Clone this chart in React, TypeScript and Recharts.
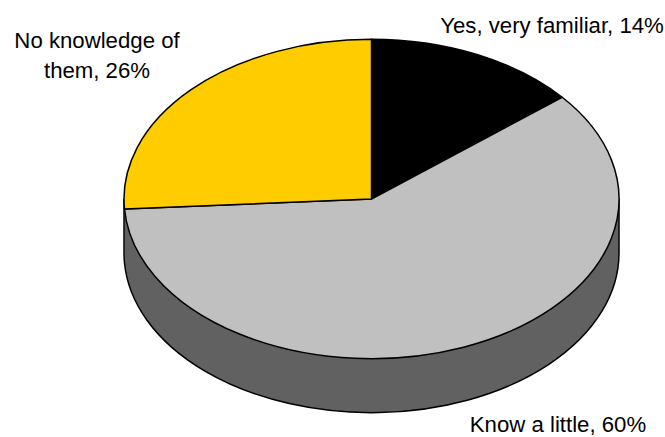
import React from 'react'
import { PieChart, Pie, Cell } from 'recharts'

const categories = ['Yes, very familiar', 'Know a little', 'No knowledge of them']
const shares = [14, 60, 26]
const sliceColors = ['#000000', '#c0c0c0', '#ffcc00']

const chartData = categories.map((name, i) => ({ name, value: shares[i] }))

const WIDTH = 665
const HEIGHT = 437
const CX = 371.5
const CY = 199
const RADIUS = 247.5
const TILT = 0.645 // vertical squash of the disc
const DEPTH = 54
const WALL_COLOR = '#616161'
const RAD = Math.PI / 180

const px = (cx: number, r: number, a: number) => cx + r * Math.cos(a * RAD)
const py = (cy: number, r: number, a: number) => cy - r * TILT * Math.sin(a * RAD)

// top face of a slice, projected onto an ellipse
function TopSlice(props: any) {
  const { cx, cy, outerRadius: r, startAngle, endAngle, fill } = props
  const ry = r * TILT
  const large = Math.abs(endAngle - startAngle) > 180 ? 1 : 0
  const d = `M${cx},${cy} L${px(cx, r, startAngle)},${py(cy, r, startAngle)} A${r},${ry} 0 ${large} 1 ${px(cx, r, endAngle)},${py(cy, r, endAngle)} Z`
  return <path d={d} fill={fill} stroke="#000" strokeWidth={1.5} strokeLinejoin="round" />
}

// side wall: only the part of a slice's rim that faces the viewer
function WallSlice(props: any) {
  const { cx, cy, outerRadius: r, startAngle, endAngle } = props
  const ry = r * TILT
  const from = Math.min(startAngle, 0)
  const to = Math.max(endAngle, -180)
  if (from <= to) return <g />
  const x1 = px(cx, r, from)
  const y1 = py(cy, r, from)
  const x2 = px(cx, r, to)
  const y2 = py(cy, r, to)
  const large = from - to > 180 ? 1 : 0
  const body = `M${x1},${y1} A${r},${ry} 0 ${large} 1 ${x2},${y2} L${x2},${y2 + DEPTH} A${r},${ry} 0 ${large} 0 ${x1},${y1 + DEPTH} Z`
  let edge = `M${x1},${y1 + DEPTH} A${r},${ry} 0 ${large} 1 ${x2},${y2 + DEPTH}`
  if (from === 0) edge = `M${x1},${y1} L${x1},${y1 + DEPTH} A${r},${ry} 0 ${large} 1 ${x2},${y2 + DEPTH}`
  if (to === -180) edge += ` L${x2},${y2}`
  return (
    <g>
      <path d={body} fill={WALL_COLOR} stroke="none" />
      <path d={edge} fill="none" stroke="#000" strokeWidth={1.5} />
    </g>
  )
}

const labelSpots = [
  { x: 552, y: 33, lines: ['Yes, very familiar, 14%'] },
  { x: 558, y: 432, lines: ['Know a little, 60%'] },
  { x: 97, y: 48, lines: ['No knowledge of', 'them, 26%'] },
]

function SliceLabel(props: any) {
  const spot = labelSpots[props.index]
  return (
    <text x={spot.x} y={spot.y} textAnchor="middle" fontFamily="Liberation Sans, Arial, sans-serif" fontSize={22.2} fill="#000">
      {spot.lines.map((line, i) => (
        <tspan key={line} x={spot.x} dy={i === 0 ? 0 : 30}>
          {line}
        </tspan>
      ))}
    </text>
  )
}

export default function App() {
  return (
    <div style={{ position: 'absolute', left: 0, top: 0, width: WIDTH, height: HEIGHT, background: '#fff' }}>
      <PieChart width={WIDTH} height={HEIGHT} margin={{ top: 0, right: 0, bottom: 0, left: 0 }}>
        <Pie
          data={chartData}
          dataKey="value"
          cx={CX}
          cy={CY}
          outerRadius={RADIUS}
          startAngle={90}
          endAngle={-270}
          stroke="none"
          shape={WallSlice}
          isAnimationActive={false}
        />
        <Pie
          data={chartData}
          dataKey="value"
          cx={CX}
          cy={CY}
          outerRadius={RADIUS}
          startAngle={90}
          endAngle={-270}
          shape={TopSlice}
          label={SliceLabel}
          labelLine={false}
          isAnimationActive={false}
        >
          {chartData.map((d, i) => (
            <Cell key={d.name} fill={sliceColors[i]} />
          ))}
        </Pie>
      </PieChart>
    </div>
  )
}
